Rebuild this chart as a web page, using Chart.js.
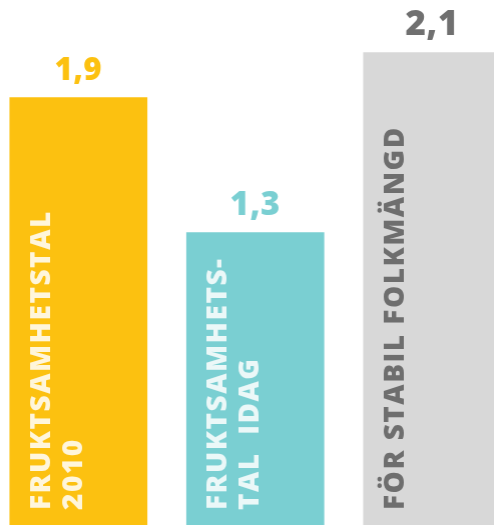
<!DOCTYPE html>
<html>
<head>
<meta charset="utf-8">
<script src="https://cdn.jsdelivr.net/npm/chart.js@4"></script>
<style>
  html, body { margin: 0; padding: 0; background: #fff; overflow: hidden; width: 494px; height: 525px; }
  #wrap { position: absolute; left: -9.75px; top: 0; width: 529.5px; height: 525px; }
</style>
</head>
<body>
<div id="wrap"><canvas id="chart"></canvas></div>
<script>
const categories = [["FRUKTSAMHETSTAL", "2010"], ["FRUKTSAMHETS-", "TAL  IDAG"], ["FÖR STABIL FOLKMÄNGD"]];
const values = [1.9, 1.3, 2.1];
const valueLabels = ["1,9", "1,3", "2,1"];

const barColors = ['#FCC110', '#7ACFD2', '#D8D8D8'];
const valueColors = ['#FCC110', '#7ACFD2', '#707070'];
const innerColors = ['rgba(255,255,255,0.85)', 'rgba(255,255,255,0.85)', '#6E6E6E'];
const valueSizes = [31, 33, 35];

// labels drawn on and above the bars
const barText = {
  id: 'barText',
  afterDatasetsDraw(chart) {
    const ctx = chart.ctx;
    const bars = chart.getDatasetMeta(0).data;
    bars.forEach((bar, i) => {
      ctx.save();
      ctx.fillStyle = valueColors[i];
      ctx.font = '800 ' + valueSizes[i] + 'px "Open Sans"';
      ctx.letterSpacing = '0.5px';
      ctx.textAlign = 'center';
      ctx.textBaseline = 'alphabetic';
      ctx.fillText(valueLabels[i], bar.x, bar.y - 18);

      const left = bar.x - bar.width / 2;
      ctx.fillStyle = innerColors[i];
      ctx.font = '800 28px "Open Sans"';
      ctx.letterSpacing = '1.5px';
      ctx.textAlign = 'left';
      ctx.textBaseline = 'middle';
      categories[i].forEach((line, j) => {
        ctx.save();
        ctx.translate(left + 32 + j * 32, 510);
        ctx.rotate(-Math.PI / 2);
        ctx.fillText(line, 0, 0);
        ctx.restore();
      });
      ctx.restore();
    });
  }
};

const config = {
  type: 'bar',
  data: {
    labels: categories.map(c => c.join(' ')),
    datasets: [{
      data: values,
      backgroundColor: barColors,
      borderWidth: 0,
      barThickness: 137
    }]
  },
  options: {
    responsive: true,
    maintainAspectRatio: false,
    animation: false,
    layout: { padding: 0 },
    plugins: {
      legend: { display: false },
      tooltip: { enabled: false }
    },
    scales: {
      x: { display: false },
      y: { display: false, min: 0, max: 525 / 225 }
    }
  },
  plugins: [barText]
};

var chart = new Chart(document.getElementById('chart'), config);
</script>
</body>
</html>
